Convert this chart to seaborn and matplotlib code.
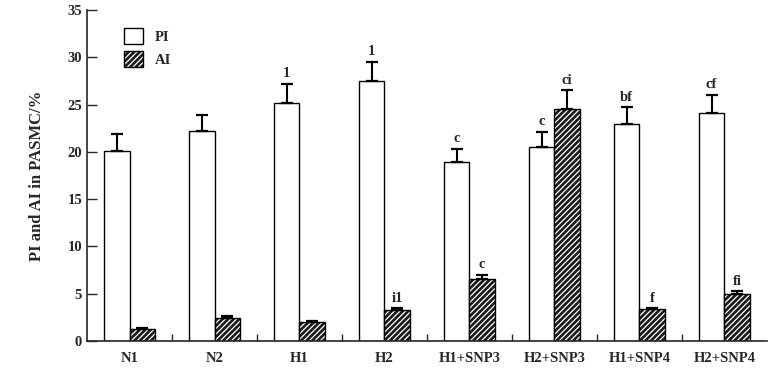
import numpy as np
import pandas as pd
import matplotlib
matplotlib.use("Agg")
import matplotlib.pyplot as plt
import seaborn as sns

groups = ["N1", "N2", "H1", "H2", "H1+SNP3", "H2+SNP3", "H1+SNP4", "H2+SNP4"]
pi_vals = [20.1, 22.2, 25.2, 27.5, 18.9, 20.5, 22.9, 24.1]
pi_err = [1.8, 1.7, 2.0, 2.0, 1.4, 1.6, 1.8, 1.9]
ai_vals = [1.25, 2.4, 2.0, 3.3, 6.55, 24.5, 3.35, 5.0]
ai_err = [0.15, 0.2, 0.15, 0.15, 0.4, 2.0, 0.1, 0.25]
pi_marks = ["", "", "1", "1", "c", "c", "bf", "cf"]
ai_marks = ["", "", "", "i1", "c", "ci", "f", "fi"]

df = pd.DataFrame({
    "group": groups * 2,
    "index": ["PI"] * len(groups) + ["AI"] * len(groups),
    "value": pi_vals + ai_vals,
})

sns.set_style("ticks")
plt.rcParams["font.family"] = ["Liberation Serif", "DejaVu Serif"]
plt.rcParams["font.weight"] = "bold"
plt.rcParams["hatch.linewidth"] = 0.9

fig = plt.figure(figsize=(7.77, 3.73), dpi=100)
ax = fig.add_axes([0.112, 0.086, 0.875, 0.887])

sns.barplot(data=df, x="group", y="value", hue="index", order=groups,
            hue_order=["PI", "AI"], palette={"PI": "white", "AI": "#1a1a1a"},
            width=0.6, edgecolor="black", linewidth=1.0, errorbar=None, ax=ax)

n = len(groups)
bars = ax.patches[:2 * n]
for p in bars[n:]:
    p.set_hatch("//////")
    p._hatch_color = (1, 1, 1, 1)

# error bars (upper only) and letters
for i in range(n):
    for p, v, e, m in [(bars[i], pi_vals[i], pi_err[i], pi_marks[i]),
                       (bars[n + i], ai_vals[i], ai_err[i], ai_marks[i])]:
        cx = p.get_x() + p.get_width() / 2
        ax.errorbar(cx, v, yerr=[[0], [e]], fmt="none", ecolor="black",
                    elinewidth=1.5, capsize=4, capthick=1.6)
        if m:
            ax.text(cx, v + e + 0.4, m, ha="center", va="bottom",
                    fontsize=10.5, fontweight="bold")

ax.set_xlim(-0.5, n - 0.5)
ax.set_ylim(0, 35)
ax.set_yticks(range(0, 36, 5))
ax.set_xticks(range(n))
ax.set_xticklabels(groups, fontsize=10.5, fontweight="bold")
ax.set_xticks(np.arange(0.5, n - 0.5, 1), minor=True)
ax.tick_params(axis="x", which="major", length=0, pad=8)
ax.tick_params(axis="x", which="minor", direction="in", length=5, width=1)
ax.tick_params(axis="y", direction="in", length=7, width=1, labelsize=10.5)
for lab in ax.get_yticklabels():
    lab.set_fontweight("bold")
ax.set_xlabel("")
ax.set_ylabel("PI and AI in PASMC/%", fontsize=12, fontweight="bold", labelpad=16)
sns.despine(ax=ax)
for s in ["left", "bottom"]:
    ax.spines[s].set_linewidth(1.2)

leg = ax.legend(loc="upper left", bbox_to_anchor=(0.035, 0.985), frameon=False,
                handlelength=1.3, handleheight=1.3, fontsize=10.5,
                labelspacing=0.5, handletextpad=0.8)
for h in leg.legend_handles[1:]:
    h.set_hatch("//////")
    h._hatch_color = (1, 1, 1, 1)
for t in leg.get_texts():
    t.set_fontweight("bold")

fig.savefig("out.png", dpi=100)
